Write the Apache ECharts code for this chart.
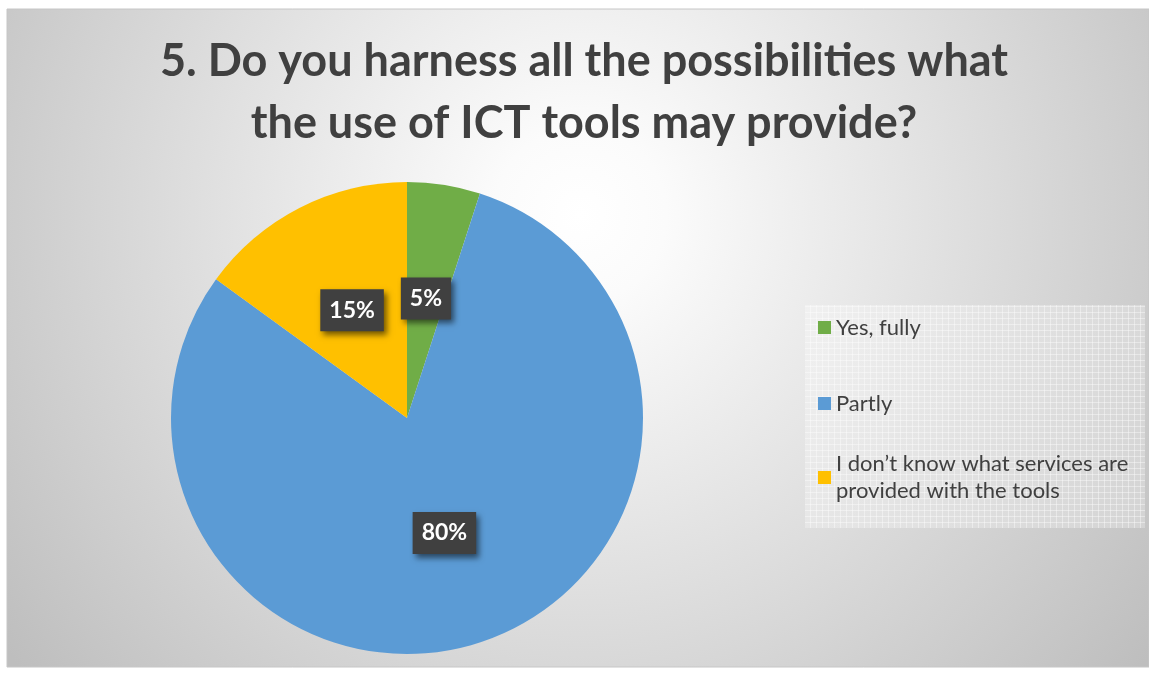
<!DOCTYPE html>
<html>
<head>
<meta charset="utf-8">
<script src="https://cdn.jsdelivr.net/npm/echarts@6/dist/echarts.min.js"></script>
<style>
html,body{margin:0;padding:0;background:#fff;}
#chart{width:1149px;height:677px;}
</style>
</head>
<body>
<div id="chart"></div>
<script>
const titleLines = ['5. Do you harness all the possibilities what', 'the use of ICT tools may provide?'];
const categories = ['Yes, fully', 'Partly', 'I don\u2019t know what services are provided with the tools'];
const legendLabels = ['Yes, fully', 'Partly', 'I don\u2019t know what services are\nprovided with the tools'];
const values = [5, 80, 15];
const colors = ['#70ad47', '#5b9bd5', '#ffc000'];

function makePattern(bg, line, size) {
  const c = document.createElement('canvas');
  c.width = size; c.height = size;
  const g = c.getContext('2d');
  g.fillStyle = bg; g.fillRect(0, 0, size, size);
  g.fillStyle = line;
  g.fillRect(0, 0, size, 1);
  g.fillRect(0, 0, 1, size);
  return c;
}
const legendPattern = makePattern('rgba(255,255,255,0.25)', 'rgba(255,255,255,0.4)', 6);

const FONT = 'Lato, "Open Sans", sans-serif';

const chart = echarts.init(document.getElementById('chart'), null, {renderer: 'canvas'});

const legendTops = [314, 390, 437];
const legends = categories.map((name, i) => ({
  data: [{name: name}],
  orient: 'vertical',
  left: 818,
  top: legendTops[i],
  padding: 0,
  itemWidth: 13,
  itemHeight: 13,
  itemGap: 0,
  icon: 'rect',
  formatter: () => legendLabels[i],
  itemStyle: {borderWidth: 0},
  textStyle: {
    color: '#404040',
    fontSize: 22,
    fontFamily: FONT,
    lineHeight: 27,
    padding: i === 2 ? [27, 0, 0, 0] : 0
  }
}));

const option = {
  animation: false,
  color: colors,
  graphic: [
    {
      type: 'rect', z: -10, silent: true,
      shape: {x: 7, y: 9, width: 1142, height: 658},
      style: {
        fill: new echarts.graphic.RadialGradient(580, 215, 720, [
          {offset: 0, color: '#ffffff'},
          {offset: 0.12, color: '#fbfbfb'},
          {offset: 1, color: '#bebebe'}
        ], true),
        stroke: '#c6c6c6', lineWidth: 1
      }
    },
    {
      type: 'rect', z: -5, silent: true,
      shape: {x: 805, y: 305, width: 340, height: 223},
      style: {fill: {image: legendPattern, repeat: 'repeat'}}
    }
  ],
  title: {
    text: titleLines.join('\n'),
    left: 584,
    top: 30,
    padding: 0,
    textAlign: 'center',
    textStyle: {
      color: '#404040',
      fontSize: 45,
      fontWeight: 'bold',
      fontFamily: FONT,
      lineHeight: 62
    }
  },
  legend: legends,
  series: [{
    type: 'pie',
    center: [407, 418],
    radius: 236,
    startAngle: 90,
    clockwise: true,
    avoidLabelOverlap: false,
    itemStyle: {borderWidth: 0},
    emphasis: {disabled: true},
    label: {
      show: true,
      position: 'inside',
      formatter: '{d}%',
      color: '#ffffff',
      fontSize: 23,
      fontWeight: 'bold',
      fontFamily: FONT,
      backgroundColor: '#404040',
      padding: [10, 9, 9, 9],
      shadowColor: 'rgba(0,0,0,0.55)',
      shadowBlur: 6,
      shadowOffsetX: 3,
      shadowOffsetY: 4
    },
    labelLine: {show: false},
    data: categories.map((name, i) => ({name: name, value: values[i]}))
  }]
};
chart.setOption(option);
</script>
</body>
</html>
